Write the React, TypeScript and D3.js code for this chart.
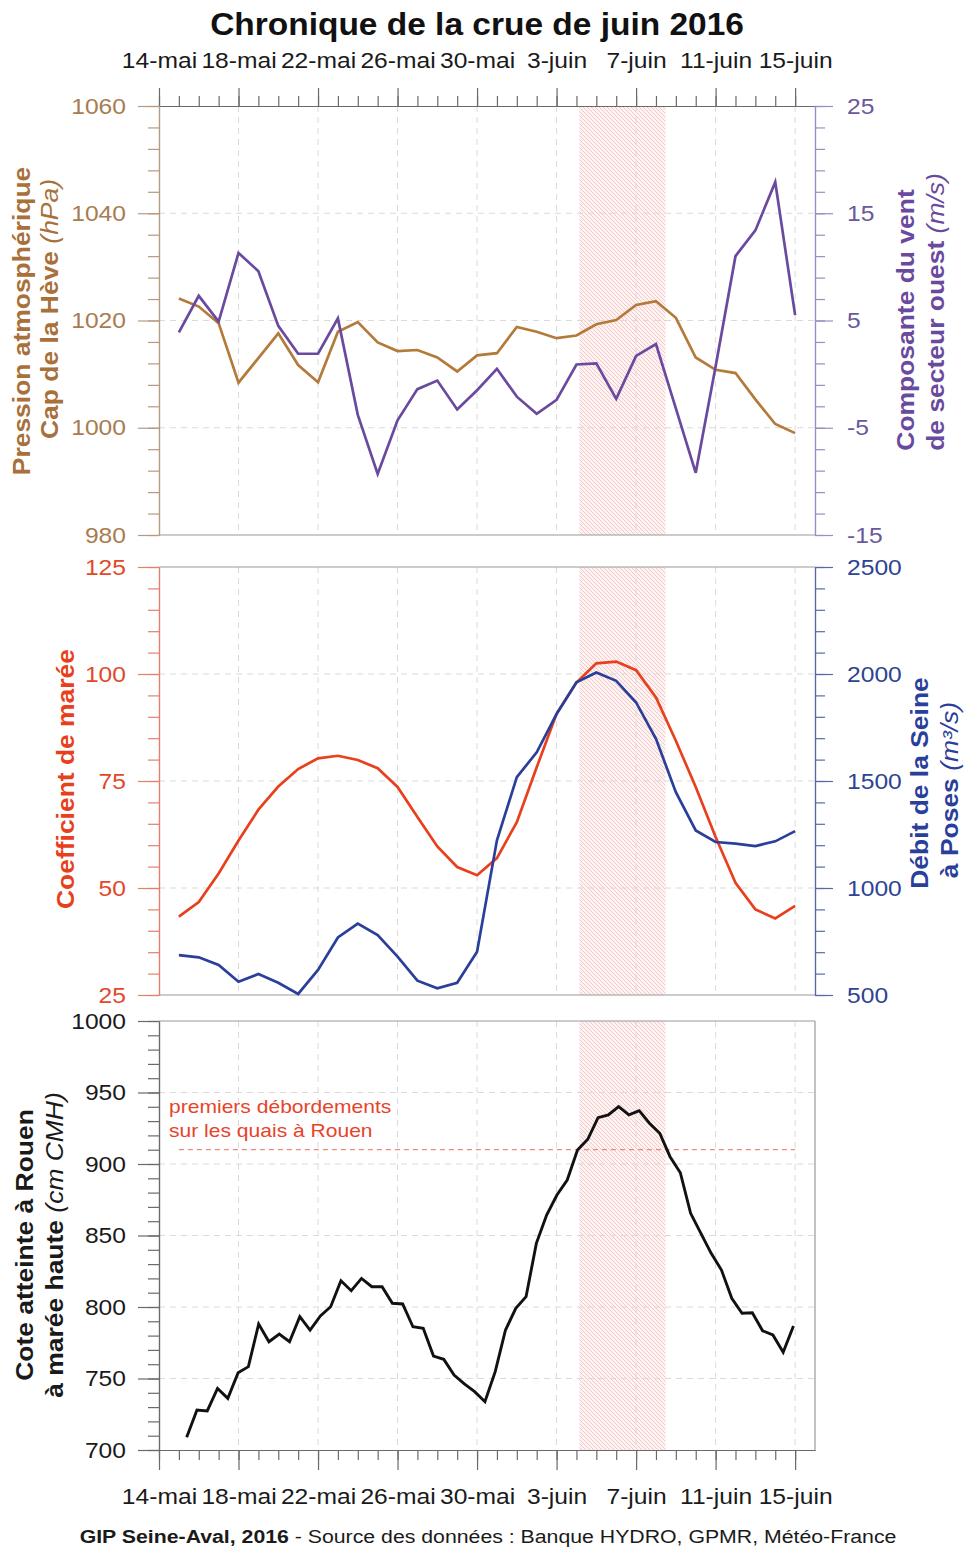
import React, { useEffect, useRef } from "react";
import * as d3 from "d3";

// axe des temps
const xStart = "2016-05-14";
const xEnd = "2016-06-16";
const dateTicks = ["2016-05-14", "2016-05-18", "2016-05-22", "2016-05-26", "2016-05-30", "2016-06-03", "2016-06-07", "2016-06-11", "2016-06-15"];
const dateTickLabels = ["14-mai", "18-mai", "22-mai", "26-mai", "30-mai", "3-juin", "7-juin", "11-juin", "15-juin"];

// période hachurée (pic de crue)
const floodPeriod = ["2016-06-04 03:30", "2016-06-08 11:30"];

// valeurs journalières du 15 mai au 15 juin
const firstDay = "2016-05-15";
const lastDay = "2016-06-15";
const pressure = [1024.1, 1022.6, 1019.5, 1008.4, 1013.0, 1017.6, 1011.7, 1008.5, 1017.9, 1019.7, 1015.9, 1014.3, 1014.5, 1013.1, 1010.5, 1013.5, 1013.9,
  1018.8, 1017.9, 1016.7, 1017.2, 1019.3, 1020.1, 1022.9, 1023.6, 1020.5, 1013.1, 1010.8, 1010.2, 1005.3, 1000.7, 999.0];
const wind = [3.9, 7.3, 4.9, 11.3, 9.6, 4.5, 1.9, 1.9, 5.2, -3.8, -9.3, -4.3, -1.4, -0.6, -3.3, -1.5, 0.5,
  -2.1, -3.7, -2.4, 0.9, 1.0, -2.3, 1.7, 2.8, -3.2, -9.2, 0.7, 11.0, 13.4, 17.9, 5.5];
const tideCoef = [43.3, 46.7, 53.4, 61.1, 68.3, 73.7, 77.8, 80.3, 80.9, 79.9, 78.0, 73.6, 66.6, 59.7, 54.9, 53.0, 57.0,
  65.4, 78.2, 90.7, 98.0, 102.5, 102.9, 100.9, 94.5, 84.4, 73.6, 61.9, 51.2, 45.0, 42.9, 45.8];
const seineFlow = [686, 676, 640, 562, 598, 557, 505, 617, 769, 834, 780, 679, 567, 531, 557, 702, 1223,
  1518, 1634, 1813, 1961, 2007, 1968, 1867, 1697, 1448, 1269, 1215, 1207, 1196, 1218, 1266];

// pleines mers à Rouen
const highTideTimes = [
  "2016-05-15 09:25", "2016-05-15 21:50", "2016-05-16 10:15", "2016-05-16 22:40", "2016-05-17 11:05", "2016-05-17 23:30",
  "2016-05-18 11:55", "2016-05-19 00:20", "2016-05-19 12:45", "2016-05-20 01:10", "2016-05-20 13:35", "2016-05-21 02:00",
  "2016-05-21 14:25", "2016-05-22 02:50", "2016-05-22 15:15", "2016-05-23 03:40", "2016-05-23 16:05", "2016-05-24 04:30",
  "2016-05-24 16:55", "2016-05-25 05:20", "2016-05-25 17:45", "2016-05-26 06:10", "2016-05-26 18:35", "2016-05-27 07:00",
  "2016-05-27 19:25", "2016-05-28 07:50", "2016-05-28 20:15", "2016-05-29 08:40", "2016-05-29 21:05", "2016-05-30 09:30",
  "2016-05-30 21:55", "2016-05-31 10:20", "2016-05-31 22:45", "2016-06-01 11:10", "2016-06-01 23:35", "2016-06-02 12:00",
  "2016-06-03 00:25", "2016-06-03 12:50", "2016-06-04 01:15", "2016-06-04 13:40", "2016-06-05 02:05", "2016-06-05 14:30",
  "2016-06-06 02:55", "2016-06-06 15:20", "2016-06-07 03:45", "2016-06-07 16:10", "2016-06-08 04:35", "2016-06-08 17:00",
  "2016-06-09 05:25", "2016-06-09 17:50", "2016-06-10 06:15", "2016-06-10 18:40", "2016-06-11 07:05", "2016-06-11 19:30",
  "2016-06-12 07:55", "2016-06-12 20:20", "2016-06-13 08:45", "2016-06-13 21:10", "2016-06-14 09:35", "2016-06-14 22:00"];
const rouenLevel = [708.9, 728.0, 727.3, 743.1, 736.1, 754.1, 758.3, 788.1, 775.7, 781.1,
  775.7, 793.2, 783.9, 793.7, 800.2, 818.4, 811.4, 820.0, 814.2, 814.2,
  802.6, 802.1, 786.2, 785.1, 765.7, 763.4, 752.4, 746.2, 740.8, 733.8,
  754.8, 783.9, 799.1, 807.2, 844.5, 864.3, 878.3, 888.8, 909.8, 917.3,
  932.4, 934.3, 940.1, 934.3, 937.3, 928.5, 921.5, 905.1, 893.9, 865.5,
  851.5, 837.5, 825.8, 806.1, 795.6, 796.0, 783.4, 780.4, 768.3, 786.7];

const overflowLevel = 910;
const overflowLabel = ["premiers débordements", "sur les quais à Rouen"];

// graduations des axes verticaux
const pressureTicks = [980, 1000, 1020, 1040, 1060];
const windTicks = [-15, -5, 5, 15, 25];
const coefTicks = [25, 50, 75, 100, 125];
const flowTicks = [500, 1000, 1500, 2000, 2500];
const levelTicks = [700, 750, 800, 850, 900, 950, 1000];

const FONT = "'Liberation Sans', Arial, Helvetica, sans-serif";
const SX = 1.12;
const X0 = 159;
const X1 = 815;

type Seg = { t: string; bold?: boolean; italic?: boolean };

const App: React.FC = () => {
  const svgRef = useRef<SVGSVGElement>(null);

  useEffect(() => {
    const svg = d3.select(svgRef.current);
    svg.selectAll("*").remove();

    const parseDay = d3.timeParse("%Y-%m-%d");
    const parseTime = d3.timeParse("%Y-%m-%d %H:%M");
    const days = d3.timeDay.range(parseDay(firstDay)!, d3.timeDay.offset(parseDay(lastDay)!, 1));
    const tides = highTideTimes.map((s) => parseTime(s)!);

    const x = d3.scaleTime().domain([parseDay(xStart)!, parseDay(xEnd)!]).range([X0, X1]);
    const majorDates = dateTicks.map((s) => parseDay(s)!);
    const minorDates = d3.timeDay.range(parseDay(xStart)!, parseDay(xEnd)!);
    const flood = floodPeriod.map((s) => parseTime(s)!);

    // hachures
    const defs = svg.append("defs");
    const pat = defs.append("pattern").attr("id", "hatch").attr("patternUnits", "userSpaceOnUse")
      .attr("width", 4).attr("height", 4);
    pat.append("rect").attr("width", 4).attr("height", 4).attr("fill", "#fdf3f3");
    pat.append("path").attr("d", "M0,0 L4,4 M-1,3 L1,5 M3,-1 L5,1")
      .attr("stroke", "#f3c0c0").attr("stroke-width", 0.85);

    const stretchTicks = (g: any) => {
      g.selectAll("text").each(function (this: any) {
        const t = d3.select(this);
        const tx = +t.attr("x") || 0;
        t.attr("transform", `translate(${tx},0) scale(${SX},1) translate(${-tx},0)`);
      });
    };

    const label = (px: number, py: number, segs: Seg[], o: { rotate?: boolean; anchor?: string; size: number; color: string; sx?: number }) => {
      const t = svg.append("text")
        .attr("transform", `translate(${px},${py})${o.rotate ? " rotate(-90)" : ""} scale(${o.sx ?? SX},1)`)
        .attr("text-anchor", o.anchor ?? "middle")
        .attr("font-size", o.size)
        .attr("fill", o.color);
      segs.forEach((s) => {
        t.append("tspan").text(s.t)
          .attr("font-weight", s.bold ? "bold" : "normal")
          .attr("font-style", s.italic ? "italic" : "normal");
      });
    };

    const panel = (top: number, bottom: number) => {
      svg.append("rect").attr("x", x(flood[0])).attr("y", top)
        .attr("width", x(flood[1]) - x(flood[0])).attr("height", bottom - top)
        .attr("fill", "url(#hatch)");
      const grid = svg.append("g").attr("stroke", "#dadada").attr("stroke-dasharray", "6,5").attr("stroke-width", 1);
      majorDates.slice(1).forEach((d) => {
        grid.append("line").attr("x1", x(d)).attr("x2", x(d)).attr("y1", top).attr("y2", bottom);
      });
      return grid;
    };

    const hGrid = (grid: any, scale: any, values: number[]) => {
      values.slice(1, -1).forEach((v) => {
        grid.append("line").attr("x1", X0).attr("x2", X1).attr("y1", scale(v)).attr("y2", scale(v));
      });
    };

    const frame = (y1: number, y2: number, c = "#9a9a9a") =>
      svg.append("line").attr("x1", X0).attr("x2", X1).attr("y1", y1).attr("y2", y2).attr("stroke", c).attr("stroke-width", 1.2);

    const yAxis = (scale: any, side: "left" | "right", majors: number[], step: number, axisColor: string, textColor: string) => {
      const [lo, hi] = scale.domain();
      const minors = d3.range(lo, hi + step / 2, step);
      const xPos = side === "left" ? X0 : X1;
      const mk = side === "left" ? d3.axisLeft : d3.axisRight;
      const gMin = svg.append("g").attr("transform", `translate(${xPos},0)`)
        .call(mk(scale).tickValues(minors).tickSize(side === "left" ? 11 : 10).tickSizeOuter(0).tickFormat(() => ""));
      const gMaj = svg.append("g").attr("transform", `translate(${xPos},0)`)
        .call(mk(scale).tickValues(majors).tickSize(side === "left" ? 21 : 18).tickSizeOuter(0)
          .tickPadding(side === "left" ? 12 : 14).tickFormat((v: any) => String(v)));
      [gMin, gMaj].forEach((g) => {
        g.selectAll("path, line").attr("stroke", axisColor).attr("stroke-width", 1.2);
      });
      gMaj.selectAll("text").attr("fill", textColor).attr("font-size", 22).attr("font-family", FONT);
      stretchTicks(gMaj);
    };

    const xAxis = (y: number, where: "top" | "bottom") => {
      const mk = where === "top" ? d3.axisTop : d3.axisBottom;
      const gMin = svg.append("g").attr("transform", `translate(0,${y})`)
        .call(mk(x).tickValues(minorDates).tickSize(10).tickSizeOuter(0).tickFormat(() => ""));
      const gMaj = svg.append("g").attr("transform", `translate(0,${y})`)
        .call(mk(x).tickValues(majorDates).tickSize(where === "top" ? 18 : 20).tickSizeOuter(0)
          .tickPadding(where === "top" ? 20 : 18).tickFormat((_d: any, i: number) => dateTickLabels[i]));
      [gMin, gMaj].forEach((g) => g.selectAll("path, line").attr("stroke", "#6a6a6a").attr("stroke-width", 1.2));
      gMaj.selectAll("text").attr("fill", "#1a1a1a").attr("font-size", 22).attr("font-family", FONT);
      stretchTicks(gMaj);
    };

    const drawLine = (xs: Date[], ys: number[], scale: any, color: string, w: number) => {
      const ln = d3.line<number>().x((_v, i) => x(xs[i])).y((v) => scale(v));
      svg.append("path").datum(ys).attr("d", ln).attr("fill", "none")
        .attr("stroke", color).attr("stroke-width", w).attr("stroke-linejoin", "miter");
    };

    svg.append("rect").attr("width", 968).attr("height", 1549).attr("fill", "#fff");

    // ---- panneau 1 : pression / vent
    const p1 = { top: 106, bottom: 535 };
    const yPress = d3.scaleLinear().domain([980, 1060]).range([p1.bottom, p1.top]);
    const yWind = d3.scaleLinear().domain([-15, 25]).range([p1.bottom, p1.top]);
    const g1 = panel(p1.top, p1.bottom);
    hGrid(g1, yPress, pressureTicks);
    frame(p1.bottom, p1.bottom);
    xAxis(p1.top, "top");
    yAxis(yPress, "left", pressureTicks, 4, "#b49a80", "#a87c50");
    yAxis(yWind, "right", windTicks, 2, "#9c8cc0", "#6b589c");
    drawLine(days, pressure, yPress, "#b47a3a", 2.7);
    drawLine(days, wind, yWind, "#6a4a9e", 2.7);

    // ---- panneau 2 : coefficient / débit
    const p2 = { top: 567, bottom: 995 };
    const yCoef = d3.scaleLinear().domain([25, 125]).range([p2.bottom, p2.top]);
    const yFlow = d3.scaleLinear().domain([500, 2500]).range([p2.bottom, p2.top]);
    const g2 = panel(p2.top, p2.bottom);
    hGrid(g2, yCoef, coefTicks);
    frame(p2.top, p2.top);
    frame(p2.bottom, p2.bottom);
    yAxis(yCoef, "left", coefTicks, 5, "#e2806c", "#e2482a");
    yAxis(yFlow, "right", flowTicks, 100, "#5b68a8", "#2d4494");
    drawLine(days, tideCoef, yCoef, "#e8401c", 2.7);
    drawLine(days, seineFlow, yFlow, "#2a3f9a", 2.7);

    // ---- panneau 3 : cote à Rouen
    const p3 = { top: 1021, bottom: 1450 };
    const yLevel = d3.scaleLinear().domain([700, 1000]).range([p3.bottom, p3.top]);
    const g3 = panel(p3.top, p3.bottom);
    hGrid(g3, yLevel, levelTicks);
    frame(p3.top, p3.top);
    svg.append("line").attr("x1", X1).attr("x2", X1).attr("y1", p3.top).attr("y2", p3.bottom)
      .attr("stroke", "#9a9a9a").attr("stroke-width", 1.2);
    xAxis(p3.bottom, "bottom");
    yAxis(yLevel, "left", levelTicks, 10, "#6a6a6a", "#1a1a1a");
    svg.append("line")
      .attr("x1", x(days[0])).attr("x2", x(days[days.length - 1]))
      .attr("y1", yLevel(overflowLevel)).attr("y2", yLevel(overflowLevel))
      .attr("stroke", "#e8705c").attr("stroke-width", 1).attr("stroke-dasharray", "5,4");
    label(169, 1113, [{ t: overflowLabel[0] }], { anchor: "start", size: 18, color: "#e8432a", sx: 1.17 });
    label(169, 1137, [{ t: overflowLabel[1] }], { anchor: "start", size: 18, color: "#e8432a", sx: 1.17 });
    drawLine(tides, rouenLevel, yLevel, "#111", 2.9);

    // ---- titres
    label(477, 35, [{ t: "Chronique de la crue de juin 2016", bold: true }], { size: 31, color: "#111", sx: 1.08 });
    label(488, 1543, [{ t: "GIP Seine-Aval, 2016", bold: true }, { t: " - Source des données : Banque HYDRO, GPMR, Météo-France" }],
      { size: 19, color: "#1a1a1a", sx: 1.12 });

    const tl = { rotate: true, size: 23, sx: 1.15 };
    label(30, 321, [{ t: "Pression atmosphérique", bold: true }], { ...tl, color: "#a8703a" });
    label(58, 309, [{ t: "Cap de la Hève ", bold: true }, { t: "(hPa)", italic: true }], { ...tl, color: "#a8703a" });
    label(914, 320, [{ t: "Composante du vent", bold: true }], { ...tl, color: "#6a4a9e" });
    label(944, 312, [{ t: "de secteur ouest ", bold: true }, { t: "(m/s)", italic: true }], { ...tl, color: "#6a4a9e" });
    label(74, 779, [{ t: "Coefficient de marée", bold: true }], { ...tl, color: "#e8401c" });
    label(928, 783, [{ t: "Débit de la Seine", bold: true }], { ...tl, color: "#2a3f9a" });
    label(958, 790, [{ t: "à Poses ", bold: true }, { t: "(m³/s)", italic: true }], { ...tl, color: "#2a3f9a" });
    label(33, 1245, [{ t: "Cote atteinte à Rouen", bold: true }], { ...tl, color: "#1a1a1a" });
    label(63, 1245, [{ t: "à marée haute ", bold: true }, { t: "(cm CMH)", italic: true }], { ...tl, color: "#1a1a1a" });
  }, []);

  return (
    <svg
      ref={svgRef}
      width={968}
      height={1549}
      style={{ position: "absolute", left: 0, top: 0, display: "block", fontFamily: FONT }}
    />
  );
};

export default App;
